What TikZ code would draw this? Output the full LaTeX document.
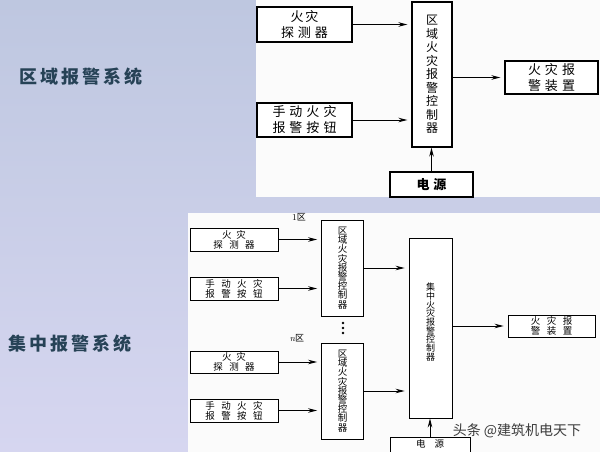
\documentclass[tikz,border=0pt]{standalone}
\usepackage{fontspec}
\newfontfamily\cjk{Noto Sans CJK SC}
\usetikzlibrary{arrows.meta}
\definecolor{bgtop}{RGB}{190,199,224}
\definecolor{bgbot}{RGB}{214,214,240}
\definecolor{panel}{RGB}{251,251,251}
\definecolor{syscol}{RGB}{38,66,86}
\definecolor{wmcol}{RGB}{60,60,60}
\newcommand{\gp}{\hspace{4pt}}
\newcommand{\gq}{\hspace{6.5pt}}
\begin{document}
\begin{tikzpicture}[x=1pt,y=-1pt,
  box/.style={draw=black,line width=1.1pt,fill=white,inner sep=0pt,align=center,text=black},
  tbox/.style={box,font=\cjk\fontsize{13}{16}\selectfont},
  tvbox/.style={box,font=\cjk\fontsize{12}{13.5}\selectfont},
  bbox/.style={box,line width=0.9pt,font=\cjk\fontsize{9.5}{9.8}\selectfont},
  bvbox/.style={box,line width=0.9pt,font=\cjk\fontsize{9.5}{9.2}\selectfont},
  arr/.style={line width=1pt,-{Stealth[length=9pt,width=4.5pt]},shorten >=4pt},
  sysl/.style={font=\cjk\bfseries\fontsize{18}{20}\selectfont,text=syscol},
  zl/.style={font=\fontsize{9}{10}\selectfont,inner sep=0pt}]
% background
\shade[top color=bgtop,bottom color=bgbot] (0,0) rectangle (600,452);
\useasboundingbox (0,0) rectangle (600,452);
\fill[panel] (256,0) rectangle (600,197);
\fill[panel] (188,213) rectangle (600,452);
% left labels
\node[sysl] (s1) at (81,77) {区\hspace{3pt}域\hspace{3pt}报\hspace{3pt}警\hspace{3pt}系\hspace{3pt}统};
\node[sysl] (s2) at (70,344) {集\hspace{3pt}中\hspace{3pt}报\hspace{3pt}警\hspace{3pt}系\hspace{3pt}统};
% ---------- top diagram ----------
\node[tbox,minimum width=95pt,minimum height=35pt] (d1) at (304.5,24.5) {火\hspace{2pt}灾\\探\gp 测\gp 器};
\node[tbox,minimum width=95pt,minimum height=34pt] (b1) at (304.5,120) {手\gp 动\gp 火\gp 灾\\报\gp 警\gp 按\gp 钮};
\node[tvbox,minimum width=40pt,minimum height=145pt] (c1) at (432,74.5) {区\\域\\火\\灾\\报\\警\\控\\制\\器};
\node[tbox,minimum width=93pt,minimum height=33pt] (dv1) at (551.5,77.5) {火\gp 灾\gp 报\\警\gp 装\gp 置};
\node[tbox,font=\cjk\bfseries\fontsize{13}{16}\selectfont,minimum width=83pt,minimum height=25pt] (p1) at (431.5,184.5) {电\gp 源};
\draw[arr] (d1.east) -- (d1.east -| c1.west);
\draw[arr] (b1.east) -- (b1.east -| c1.west);
\draw[arr] (dv1.west -| c1.east) -- (dv1.west);
\draw[arr,shorten >=0pt] (p1.north) -- (p1.north |- c1.south);
% ---------- bottom diagram ----------
\node[zl] (z1) at (299,217) {1{\cjk 区}};
\node[zl] (zn) at (297,338) {\textit{n}{\cjk 区}};
\node[bbox,minimum width=88pt,minimum height=23pt] (d2) at (234,239.5) {火\hspace{5pt}灾\\探\gq 测\gq 器};
\node[bbox,minimum width=88pt,minimum height=23pt] (b2) at (234,288.5) {手\gq 动\gq 火\gq 灾\\报\gq 警\gq 按\gq 钮};
\node[bvbox,minimum width=42pt,minimum height=96pt] (c2) at (342.5,268) {区\\域\\火\\灾\\报\\警\\控\\制\\器};
\fill[black] (343,323) circle (1.3) (343,328) circle (1.3) (343,333) circle (1.3);
\node[bbox,minimum width=88pt,minimum height=22pt] (d3) at (234,362) {火\hspace{5pt}灾\\探\gq 测\gq 器};
\node[bbox,minimum width=88pt,minimum height=23pt] (b3) at (234,410.5) {手\gq 动\gq 火\gq 灾\\报\gq 警\gq 按\gq 钮};
\node[bvbox,minimum width=42pt,minimum height=96pt] (c3) at (342.5,391) {区\\域\\火\\灾\\报\\警\\控\\制\\器};
\node[box,line width=0.9pt,minimum width=43pt,minimum height=180pt] (cen) at (430.5,328) {};
\node[font=\cjk\fontsize{9}{8.7}\selectfont,align=center,inner sep=0pt] (cent) at (430.5,322) {集\\中\\火\\灾\\报\\警\\控\\制\\器};
\node[bbox,minimum width=87pt,minimum height=22pt] (dv2) at (551.5,326) {火\gq 灾\gq 报\\警\gq 装\gq 置};
\node[box,line width=0.9pt,minimum width=80pt,minimum height=20pt] (p2) at (430,447) {};
\node[font=\cjk\fontsize{9.5}{10}\selectfont,inner sep=0pt] (p2t) at (430,443.5) {电\hspace{9pt}源};
\draw[arr,line width=0.9pt] (d2.east) -- (d2.east -| c2.west);
\draw[arr,line width=0.9pt] (b2.east) -- (b2.east -| c2.west);
\draw[arr,line width=0.9pt] (d3.east) -- (d3.east -| c3.west);
\draw[arr,line width=0.9pt] (b3.east) -- (b3.east -| c3.west);
\draw[arr,line width=0.9pt] (c2.east) -- (c2.east -| cen.west);
\draw[arr,line width=0.9pt] (c3.east) -- (c3.east -| cen.west);
\draw[arr,line width=0.9pt] (dv2.west -| cen.east) -- (dv2.west);
\draw[arr,line width=0.9pt,shorten >=0pt] (p2.north) -- (p2.north |- cen.south);
% watermark
\node[font=\cjk\fontsize{14}{16}\selectfont,text=wmcol,inner sep=0pt] (wm) at (517,431) {头条 @建筑机电天下};
\end{tikzpicture}
\end{document}
